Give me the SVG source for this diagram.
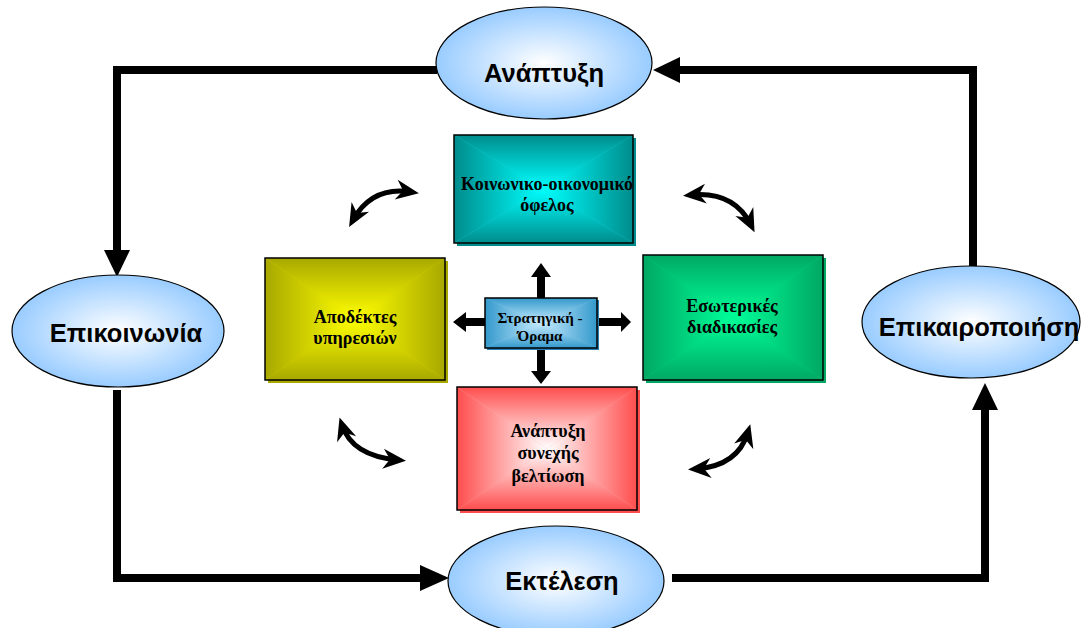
<svg xmlns="http://www.w3.org/2000/svg" xmlns:xlink="http://www.w3.org/1999/xlink" width="1081" height="628" viewBox="0 0 1081 628">
<style>
.ell{stroke:#000;stroke-width:1.2;fill:url(#eg)}
.et{font-family:"Liberation Sans",Arial,sans-serif;font-weight:bold;font-size:25.5px;fill:#000;text-anchor:middle}
.bt{font-family:"Liberation Serif","Times New Roman",serif;font-weight:bold;font-size:18px;fill:#000;text-anchor:middle}
.bt2{font-size:15px}
.brd{fill:none;stroke:#000;stroke-width:1.5}
.cn{stroke:#000;stroke-width:8;fill:none}
.ah{fill:#000}
.cv{stroke:#000;stroke-width:5;fill:none;marker-start:url(#mh);marker-end:url(#mh)}
</style>
<defs>
<radialGradient id="eg" cx="0.5" cy="0.5" r="0.5"><stop offset="0" stop-color="#ffffff"/><stop offset="1" stop-color="#99ccff"/></radialGradient>
<linearGradient id="tT" x1="0" y1="0" x2="0" y2="1"><stop offset="0" stop-color="#008c8c"/><stop offset="1" stop-color="#00ffff"/></linearGradient>
<linearGradient id="tB" xlink:href="#tT" x1="0" y1="1" x2="0" y2="0"/>
<linearGradient id="tL" xlink:href="#tT" x1="0" y1="0" x2="1" y2="0"/>
<linearGradient id="tR" xlink:href="#tT" x1="1" y1="0" x2="0" y2="0"/>
<linearGradient id="yT" x1="0" y1="0" x2="0" y2="1"><stop offset="0" stop-color="#a8a800"/><stop offset="1" stop-color="#ffff00"/></linearGradient>
<linearGradient id="yB" xlink:href="#yT" x1="0" y1="1" x2="0" y2="0"/>
<linearGradient id="yL" xlink:href="#yT" x1="0" y1="0" x2="1" y2="0"/>
<linearGradient id="yR" xlink:href="#yT" x1="1" y1="0" x2="0" y2="0"/>
<linearGradient id="gT" x1="0" y1="0" x2="0" y2="1"><stop offset="0" stop-color="#00a864"/><stop offset="1" stop-color="#00ff99"/></linearGradient>
<linearGradient id="gB" xlink:href="#gT" x1="0" y1="1" x2="0" y2="0"/>
<linearGradient id="gL" xlink:href="#gT" x1="0" y1="0" x2="1" y2="0"/>
<linearGradient id="gR" xlink:href="#gT" x1="1" y1="0" x2="0" y2="0"/>
<linearGradient id="rT" x1="0" y1="0" x2="0" y2="1"><stop offset="0" stop-color="#ff4d4d"/><stop offset="1" stop-color="#ffffff"/></linearGradient>
<linearGradient id="rB" xlink:href="#rT" x1="0" y1="1" x2="0" y2="0"/>
<linearGradient id="rL" xlink:href="#rT" x1="0" y1="0" x2="1" y2="0"/>
<linearGradient id="rR" xlink:href="#rT" x1="1" y1="0" x2="0" y2="0"/>
<linearGradient id="bT" x1="0" y1="0" x2="0" y2="1"><stop offset="0" stop-color="#3399cc"/><stop offset="1" stop-color="#c8ecff"/></linearGradient>
<linearGradient id="bB" xlink:href="#bT" x1="0" y1="1" x2="0" y2="0"/>
<linearGradient id="bL" xlink:href="#bT" x1="0" y1="0" x2="1" y2="0"/>
<linearGradient id="bR" xlink:href="#bT" x1="1" y1="0" x2="0" y2="0"/>
<marker id="mh" viewBox="-16 -11 24 22" refX="0" refY="0" markerWidth="24" markerHeight="22" markerUnits="userSpaceOnUse" orient="auto-start-reverse" overflow="visible">
<path d="M8,0 L-15,-10 L-8,0 L-15,10 Z" fill="#000"/>
</marker>
</defs>
<rect width="1081" height="628" fill="#fff"/>

<g id="connectors">
<polyline class="cn" points="437,70 117,70 117,252"/>
<polygon class="ah" points="104,250 130,250 117,277"/>
<polyline class="cn" points="117,390 117,578 422,578"/>
<polygon class="ah" points="420,565 420,591 449,578"/>
<polyline class="cn" points="672,578 985,578 985,408"/>
<polygon class="ah" points="972,410 998,410 985,383"/>
<polyline class="cn" points="973,267 973,70 678,70"/>
<polygon class="ah" points="680,57 680,83 653,70"/>
<g id="cross">
<rect x="537" y="276" width="8" height="23" class="ah"/>
<polygon class="ah" points="531,277 551,277 541,263"/>
<rect x="537" y="347" width="8" height="25" class="ah"/>
<polygon class="ah" points="531,371 551,371 541,384"/>
<rect x="464" y="318" width="22" height="8" class="ah"/>
<polygon class="ah" points="466,312 466,332 453,322"/>
<rect x="596" y="318" width="27" height="8" class="ah"/>
<polygon class="ah" points="621,312 621,332 631,322"/>
</g>
<path class="cv" d="M353,220 Q372,186 411,192"/>
<path class="cv" d="M691,195 Q734,191 751,225"/>
<path class="cv" d="M342,425 Q352,456 398,460"/>
<path class="cv" d="M696,469 Q738,466 748,432"/>
</g>

<g id="n-anaptyxi">
<ellipse class="ell" cx="544" cy="63" rx="108" ry="56"/>
<text class="et" x="544" y="82">Ανάπτυξη</text>
</g>
<g id="n-epikoinonia">
<ellipse class="ell" cx="118" cy="331" rx="106" ry="56"/>
<text class="et" x="126" y="342">Επικοινωνία</text>
</g>
<g id="n-epikairopoiisi">
<ellipse class="ell" cx="971" cy="322" rx="109" ry="56"/>
<text class="et" x="979" y="336">Επικαιροποιήση</text>
</g>
<g id="n-ektelesi">
<ellipse class="ell" cx="556" cy="581" rx="108" ry="55"/>
<text class="et" x="562" y="590">Εκτέλεση</text>
</g>

<g id="b-ofelos">
<rect x="457" y="138" width="179" height="108" fill="#008c8c"/>
<rect x="454" y="135" width="179" height="108" fill="#33cccc"/>
<polygon fill="url(#tT)" points="454,135 633,135 543.5,189"/>
<polygon fill="url(#tB)" points="454,243 633,243 543.5,189"/>
<polygon fill="url(#tL)" points="454,135 454,243 543.5,189"/>
<polygon fill="url(#tR)" points="633,135 633,243 543.5,189"/>
<rect class="brd" x="454" y="135" width="179" height="108"/>
<text class="bt" x="547" y="190">Κοινωνικο-οικονομικό</text>
<text class="bt" x="547" y="211">όφελος</text>
</g>

<g id="b-apodektes">
<rect x="268" y="261" width="180" height="122" fill="#a8a800"/>
<rect x="265" y="258" width="180" height="122" fill="#d4d400"/>
<polygon fill="url(#yT)" points="265,258 445,258 355,319"/>
<polygon fill="url(#yB)" points="265,380 445,380 355,319"/>
<polygon fill="url(#yL)" points="265,258 265,380 355,319"/>
<polygon fill="url(#yR)" points="445,258 445,380 355,319"/>
<rect class="brd" x="265" y="258" width="180" height="122"/>
<text class="bt" x="355" y="323">Αποδέκτες</text>
<text class="bt" x="355" y="344">υπηρεσιών</text>
</g>

<g id="b-esoterikes">
<rect x="646" y="258" width="180" height="125" fill="#00a864"/>
<rect x="643" y="255" width="180" height="125" fill="#00d47e"/>
<polygon fill="url(#gT)" points="643,255 823,255 733,317.5"/>
<polygon fill="url(#gB)" points="643,380 823,380 733,317.5"/>
<polygon fill="url(#gL)" points="643,255 643,380 733,317.5"/>
<polygon fill="url(#gR)" points="823,255 823,380 733,317.5"/>
<rect class="brd" x="643" y="255" width="180" height="125"/>
<text class="bt" x="732" y="312">Εσωτερικές</text>
<text class="bt" x="732" y="333">διαδικασίες</text>
</g>

<g id="b-veltiosi">
<rect x="460" y="390" width="180" height="123" fill="#ff4d4d"/>
<rect x="457" y="387" width="180" height="123" fill="#ffa6a6"/>
<polygon fill="url(#rT)" points="457,387 637,387 547,448.5"/>
<polygon fill="url(#rB)" points="457,510 637,510 547,448.5"/>
<polygon fill="url(#rL)" points="457,387 457,510 547,448.5"/>
<polygon fill="url(#rR)" points="637,387 637,510 547,448.5"/>
<rect class="brd" x="457" y="387" width="180" height="123"/>
<text class="bt" x="548" y="437">Ανάπτυξη</text>
<text class="bt" x="548" y="459">συνεχής</text>
<text class="bt" x="548" y="482">βελτίωση</text>
</g>

<g id="b-stratigiki">
<rect x="487" y="300" width="112" height="50" fill="#2a80b0"/>
<rect x="485" y="298" width="112" height="50" fill="#80c4e8"/>
<polygon fill="url(#bT)" points="485,298 597,298 541,323"/>
<polygon fill="url(#bB)" points="485,348 597,348 541,323"/>
<polygon fill="url(#bL)" points="485,298 485,348 541,323"/>
<polygon fill="url(#bR)" points="597,298 597,348 541,323"/>
<rect class="brd" x="485" y="298" width="112" height="50"/>
<text class="bt bt2" x="540" y="323">Στρατηγική -</text>
<text class="bt bt2" x="540" y="341">Όραμα</text>
</g>
</svg>
